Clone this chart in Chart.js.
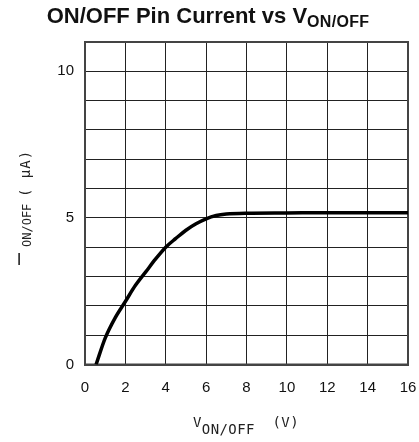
<!DOCTYPE html>
<html>
<head>
<meta charset="utf-8">
<script src="https://cdn.jsdelivr.net/npm/chart.js@4"></script>
<style>
  html, body { margin: 0; padding: 0; background: #fff; }
  #wrap { width: 419px; height: 442px; }
</style>
</head>
<body>
<div id="wrap"><canvas id="myChart" width="419" height="442"></canvas></div>
<script>
// valores
const vOnOff = [0.55, 1.0, 1.5, 2.0, 2.5, 3.0, 3.5, 4.0, 4.5, 5.0, 5.5, 6.0, 6.5, 7.0, 8.0, 10.0, 12.0, 14.0, 16.0];
const iOnOff = [0.0, 0.9, 1.6, 2.15, 2.7, 3.15, 3.6, 4.0, 4.3, 4.58, 4.8, 4.97, 5.08, 5.13, 5.16, 5.17, 5.18, 5.18, 5.18];
const xTicks = [0, 2, 4, 6, 8, 10, 12, 14, 16];
const yTickLabels = [0, 5, 10];

const points = vOnOff.map((v, i) => ({ x: v, y: iOnOff[i] }));

const mono = '14px "DejaVu Sans Mono", monospace';

function drawParts(ctx, parts, cx, baseY) {
    let total = 0;
    parts.forEach(p => {
        ctx.font = p[1];
        ctx.letterSpacing = p[3];
        total += ctx.measureText(p[0]).width;
    });
    let x = cx - total / 2;
    parts.forEach(p => {
        ctx.font = p[1];
        ctx.letterSpacing = p[3];
        ctx.fillText(p[0], x, baseY + p[2]);
        x += ctx.measureText(p[0]).width;
    });
    ctx.letterSpacing = '0px';
}

// marco y titulos (con subindices) dibujados en el canvas
const labelsPlugin = {
    id: 'labels',
    beforeDatasetsDraw(chart) {
        const a = chart.chartArea;
        const c = chart.ctx;
        c.save();
        c.strokeStyle = '#444';
        c.lineWidth = 2;
        c.strokeRect(a.left, a.top, a.right - a.left, a.bottom - a.top);
        c.restore();
    },
    afterDraw(chart) {
        const c = chart.ctx;
        c.save();
        c.fillStyle = '#111';
        c.textBaseline = 'alphabetic';

        // titulo principal
        const title = [
            ['ON/OFF Pin Current vs V', 'bold 22px "Liberation Sans", Arial, sans-serif', 0, '0px'],
            ['ON/OFF', 'bold 16px "Liberation Sans", Arial, sans-serif', 4, '0.3px']
        ];
        drawParts(c, title, 208, 23);

        // titulo eje x
        c.fillStyle = '#222';
        const xt = [
            ['V', mono, 0, '0.4px'],
            ['ON/OFF', mono, 7, '0.4px'],
            ['  (V)', mono, 0, '0.4px']
        ];
        drawParts(c, xt, 246, 427);

        // titulo eje y: la "I" va derecha, como en el original
        c.font = '17px "Liberation Sans", Arial, sans-serif';
        c.textAlign = 'center';
        c.fillText('I', 19, 265);
        c.textAlign = 'left';
        c.rotate(-Math.PI / 2);
        c.font = '12px "DejaVu Sans Mono", monospace';
        c.fillText('ON/OFF', -247, 31);
        c.font = mono;
        c.letterSpacing = '1px';
        c.fillText('( \u03bcA)', -197, 30);
        c.letterSpacing = '0px';
        c.restore();
    }
};

const ctx = document.getElementById('myChart');

new Chart(ctx, {
    type: 'line',
    data: {
        datasets: [{
            data: points,
            borderColor: '#000',
            borderWidth: 3.5,
            pointRadius: 0,
            cubicInterpolationMode: 'monotone',
            fill: false
        }]
    },
    options: {
        responsive: false,
        animation: false,
        layout: { padding: { left: 0, right: 11, top: 42, bottom: 0 } },
        plugins: {
            legend: { display: false },
            tooltip: { enabled: false }
        },
        scales: {
            x: {
                type: 'linear',
                min: 0,
                max: 16,
                afterFit: s => {
                    s.height = 77.5;
                    s.paddingLeft = 0;
                    s.paddingRight = 0;
                },
                afterBuildTicks: s => { s.ticks = xTicks.map(v => ({ value: v })); },
                ticks: {
                    padding: 14,
                    color: '#111',
                    font: { size: 15, family: '"Liberation Sans", Arial, sans-serif' }
                },
                grid: { color: '#222', lineWidth: 1, drawTicks: false },
                border: { color: '#444', width: 2 }
            },
            y: {
                min: 0,
                max: 11,
                afterFit: s => {
                    s.width = 85;
                    s.paddingTop = 0;
                    s.paddingBottom = 0;
                },
                ticks: {
                    stepSize: 1,
                    padding: 11,
                    color: '#111',
                    font: { size: 15, family: '"Liberation Sans", Arial, sans-serif' },
                    callback: v => yTickLabels.includes(v) ? v : ''
                },
                grid: { color: '#222', lineWidth: 1, drawTicks: false },
                border: { color: '#444', width: 2 }
            }
        }
    },
    plugins: [labelsPlugin]
});
</script>
</body>
</html>
